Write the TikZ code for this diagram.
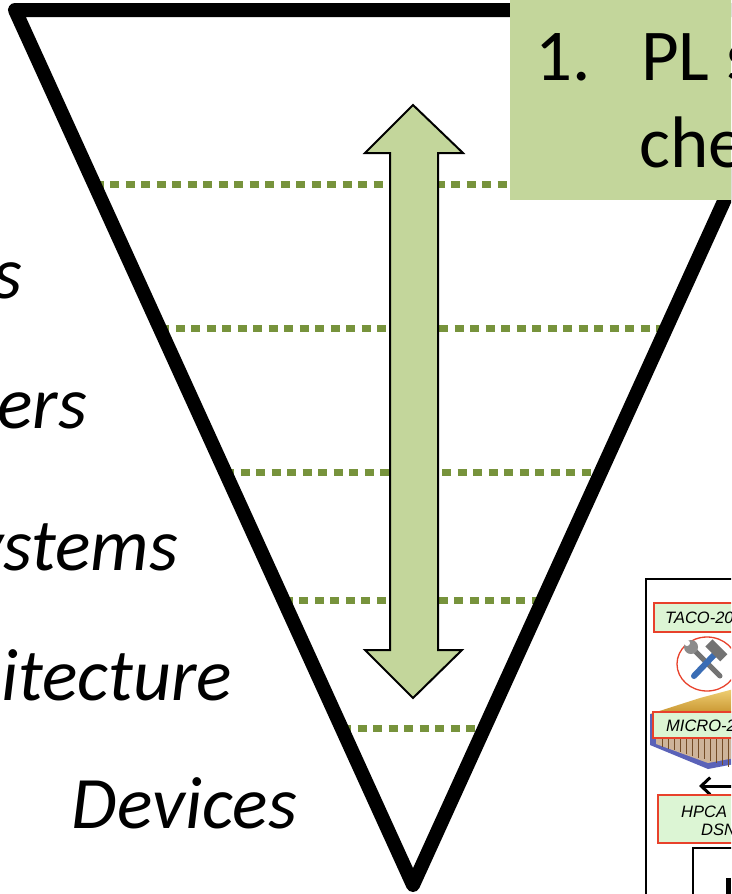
\documentclass[tikz,border=0pt]{standalone}
\usepackage{fontspec}
\setmainfont{Carlito}
\newfontfamily\figfont{Liberation Sans}
\usetikzlibrary{arrows.meta,shapes.geometric,calc}

\definecolor{olivelight}{HTML}{C3D69B}
\definecolor{olivedark}{HTML}{77933C}
\definecolor{tagfill}{HTML}{DCF5D4}
\definecolor{tagred}{HTML}{E8412B}
\definecolor{toolblue}{HTML}{3A6DB5}
\definecolor{chipgoldA}{HTML}{F3D67C}
\definecolor{chipgoldB}{HTML}{C8942E}
\definecolor{chipblue}{HTML}{5A62B8}
\definecolor{chipface}{HTML}{CDB49A}

\tikzset{
  layerline/.style={olivedark, line width=7pt, dash pattern=on 9pt off 6.5pt},
  funnel/.style={line width=14pt, line join=round},
  updown/.style={fill=olivelight, draw=black, line width=2pt, line join=miter},
  layerlabel/.style={anchor=base east, inner sep=0pt, font=\fontsize{74}{88}\selectfont\itshape},
  notetext/.style={anchor=base west, inner sep=0pt, font=\fontsize{73}{87}\selectfont},
  tagbox/.style={fill=tagfill, draw=tagred, line width=1.8pt},
  tagtext/.style={anchor=base west, inner sep=0pt, font=\figfont\itshape\fontsize{16.5}{19}\selectfont},
}

\begin{document}
\begin{tikzpicture}[x=1pt,y=-1pt]
\useasboundingbox (0,0) rectangle (731,894);
\clip (0,0) rectangle (731,894);

% funnel corners
\coordinate (tl) at (15,10);
\coordinate (tr) at (811,10);
\coordinate (bot) at (413,885);

% layer separators (behind the funnel outline)
\foreach \yy [count=\i] in {185,329,472,601,729}{
  \coordinate (sepL\i) at ($(tl)!{(\yy-10)/875}!(bot)$);
  \coordinate (sepR\i) at ($(tr)!{(\yy-10)/875}!(bot)$);
  \draw[layerline] (sepL\i) -- (sepR\i);
}

% funnel outline
\draw[funnel] (tl) -- (tr) -- (bot) -- cycle;

% two-headed arrow
\draw[updown] (413,105) -- (463,153) -- (438,153) -- (438,650) -- (462,650)
  -- (413,698) -- (365,650) -- (390,650) -- (390,153) -- (365,153) -- cycle;

% numbered note box
\node (notebox) [fill=olivelight, inner sep=0pt, minimum width=235pt,
  minimum height=205pt, anchor=north west] at (510,-5) {};
\node (num) [notetext] at (535,80) {1.};
\node (noteA) [notetext] at (641,80) {PL s};
\node (noteB) [notetext] at (639,167) {che};

% layer labels
\node (lbl1) [layerlabel] at (22,298) {s};
\node (lbl2) [layerlabel] at (87,428) {ers};
\node (lbl3) [layerlabel] at (178,570) {ystems};
\node (lbl4) [layerlabel] at (232,700) {itecture};
\node (lbl5) [layerlabel] at (297,828) {Devices};

% inset figure
\draw[line width=2pt, fill=white] (646,579) rectangle (745,905);
\draw[tagbox] (654,603) rectangle (745,632);
\node (taco) [tagtext] at (665,623) {TACO-20};

\draw[tagred, line width=1.3pt] (707,664) ellipse [x radius=30, y radius=27];
% crossed tools
\draw[line width=5pt, black!55, line cap=round] (692,648) -- (720,676);
\fill[black!45] (691,647) circle (7pt);
\fill[white] (687,643) circle (3pt);
\draw[line width=6pt, toolblue, line cap=round] (714,655) -- (694,676);
\fill[black!55, rotate around={-45:(716,650)}] (706,645) rectangle (727,655);

% chip
\shade[top color=chipgoldA, bottom color=chipgoldB] (650,714) -- (700,698) -- (745,686) -- (745,714) -- cycle;
\fill[chipblue] (650,714) -- (650,745) -- (708,769) -- (745,762) -- (745,714) -- cycle;
\fill[chipface] (656,738) -- (656,744) -- (708,763) -- (745,756) -- (745,738) -- cycle;
\foreach \xx in {662,668,674,680,686,692,698,704,710,716,722,728}{
  \draw[brown!60!black, line width=0.8pt] (\xx,739) -- (\xx,{745+(\xx-656)*0.3});
}
\draw[tagbox] (653,712) rectangle (745,738);
\node (micro) [tagtext] at (666,731) {MICRO-2};

% left-pointing arrow
\coordinate (arrEnd) at (699,786);
\coordinate (arrStart) at (745,786);
\draw[line width=3pt, -{Straight Barb[length=9pt, width=17pt]}] (arrStart) -- (arrEnd);

\draw[tagbox] (658,795) rectangle (745,843);
\node (hpca) [tagtext] at (681,817) {HPCA};
\node (dsn) [tagtext] at (701,835) {DSN};

\draw[line width=2pt] (693,848) rectangle (745,905);
\fill[black] (726,878) rectangle (731,894);
\end{tikzpicture}
\end{document}
